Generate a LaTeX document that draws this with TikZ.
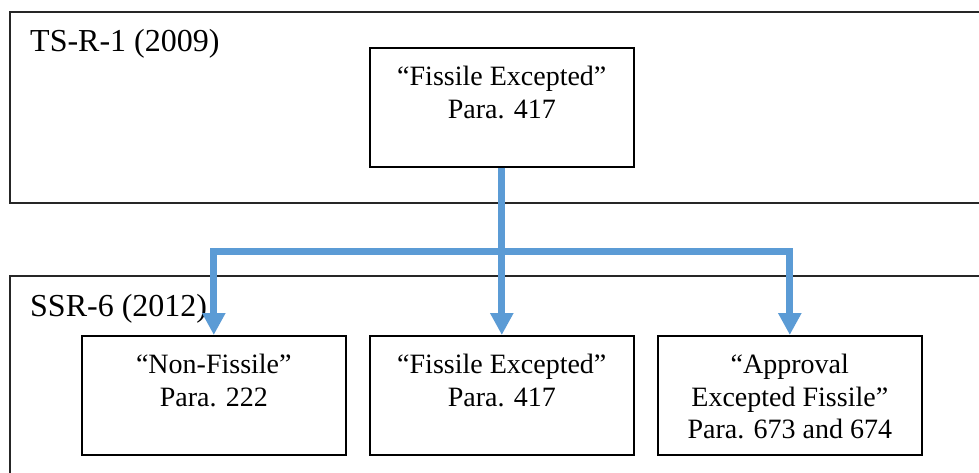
\documentclass[tikz,border=0pt]{standalone}
\usepackage{fontspec}
\setmainfont{Liberation Serif}
\usetikzlibrary{arrows.meta}
\definecolor{flowblue}{HTML}{5B9BD5}
\newcommand{\boxtext}[1]{\parbox[c][119pt][t]{264pt}{\centering\fontsize{28}{32.5}\selectfont\rule{0pt}{38pt}#1}}
\tikzset{
  frame/.style={draw=black!85, line width=1.6pt, rectangle, inner sep=0pt, anchor=north west},
  title/.style={inner sep=0pt, anchor=base west, font=\fontsize{32}{38}\selectfont},
  stagebox/.style={draw=black, line width=1.6pt, rectangle, inner sep=0pt, anchor=north west, minimum width=264pt, minimum height=119pt},
  flow/.style={draw=flowblue, line width=7pt, line join=miter, -{Triangle[width=22pt,length=22pt]}}
}
\begin{document}
\begin{tikzpicture}[x=1pt,y=-1pt]
\useasboundingbox (0,0) rectangle (979,473);
\clip (0,0) rectangle (979,473);
\fill[white] (0,0) rectangle (979,473);
% outer frames (open at the right / bottom edge of the picture)
\node[frame, minimum width=1000pt, minimum height=191pt] (tsframe) at (9,11) {};
\node[frame, minimum width=1000pt, minimum height=240pt] (ssrframe) at (9,275) {};
\node[title] (tstitle) at (30,51.7) {TS-R-1 (2009)};
\node[title] (ssrtitle) at (30,316.7) {SSR-6 (2012)};
% boxes
\node[stagebox] (top) at (369,47) {\boxtext{“Fissile Excepted”\\Para. 417}};
\node[stagebox] (b1) at (81,335) {\boxtext{“Non-Fissile”\\Para. 222}};
\node[stagebox] (b2) at (369,335) {\boxtext{“Fissile Excepted”\\Para. 417}};
\node[stagebox] (b3) at (657,335) {\boxtext{“Approval\\Excepted Fissile”\\Para. 673 and 674}};
% connectors
\coordinate (hub) at (top.south |- 0,251);
\draw[flow] (top.south) -- (b2.north);
\draw[flow] (hub) -| (b1.north);
\draw[flow] (hub) -| (b3.north);
\end{tikzpicture}
\end{document}
